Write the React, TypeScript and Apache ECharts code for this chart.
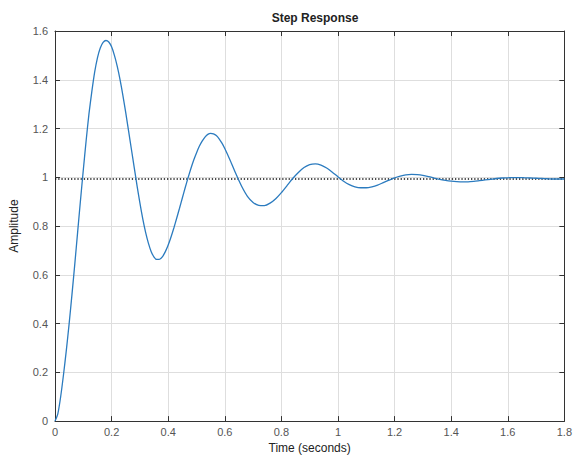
import React, { useEffect, useRef } from "react";
import * as echarts from "echarts";

const timeValues = [
  0, 0.01, 0.02, 0.03, 0.04, 0.05, 0.06, 0.07, 0.08, 0.09, 0.1, 0.11, 0.12,
  0.13, 0.14, 0.15, 0.16, 0.17, 0.18, 0.19, 0.2, 0.21, 0.22, 0.23, 0.24, 0.25,
  0.26, 0.27, 0.28, 0.29, 0.3, 0.31, 0.32, 0.33, 0.34, 0.35, 0.36, 0.37, 0.38,
  0.39, 0.4, 0.41, 0.42, 0.43, 0.44, 0.45, 0.46, 0.47, 0.48, 0.49, 0.5, 0.51,
  0.52, 0.53, 0.54, 0.55, 0.56, 0.57, 0.58, 0.59, 0.6, 0.62, 0.64, 0.66, 0.68,
  0.7, 0.72, 0.74, 0.76, 0.78, 0.8, 0.82, 0.84, 0.86, 0.88, 0.9, 0.92, 0.94,
  0.96, 0.98, 1.0, 1.02, 1.04, 1.06, 1.08, 1.1, 1.12, 1.14, 1.16, 1.18, 1.2,
  1.22, 1.24, 1.26, 1.28, 1.3, 1.32, 1.34, 1.36, 1.38, 1.4, 1.42, 1.44, 1.46,
  1.48, 1.5, 1.52, 1.54, 1.56, 1.58, 1.6, 1.62, 1.64, 1.66, 1.68, 1.7, 1.72,
  1.74, 1.76, 1.78, 1.8,
];

const amplitudeValues = [
  0, 0.03, 0.1, 0.19, 0.29, 0.4, 0.52, 0.645, 0.775, 0.905, 1.03, 1.15, 1.26,
  1.35, 1.43, 1.49, 1.53, 1.553, 1.561, 1.555, 1.535, 1.5, 1.455, 1.4, 1.335,
  1.265, 1.19, 1.115, 1.04, 0.965, 0.895, 0.83, 0.775, 0.73, 0.695, 0.673,
  0.663, 0.664, 0.675, 0.695, 0.722, 0.755, 0.792, 0.832, 0.873, 0.915, 0.957,
  0.997, 1.035, 1.07, 1.1, 1.127, 1.148, 1.165, 1.176, 1.18, 1.178, 1.171,
  1.158, 1.14, 1.118, 1.067, 1.012, 0.962, 0.922, 0.897, 0.885, 0.884, 0.894,
  0.912, 0.937, 0.966, 0.995, 1.02, 1.04, 1.052, 1.055, 1.05, 1.038, 1.021,
  1.002, 0.984, 0.97, 0.961, 0.957, 0.957, 0.961, 0.968, 0.978, 0.988, 0.998,
  1.005, 1.01, 1.012, 1.011, 1.008, 1.003, 0.997, 0.991, 0.987, 0.984, 0.982,
  0.981, 0.981, 0.983, 0.986, 0.989, 0.992, 0.995, 0.997, 0.998, 0.999, 0.999,
  0.998, 0.997, 0.996, 0.995, 0.994, 0.993, 0.993, 0.993,
];

const steadyState = 0.993;
const xRange = [0, 1.8];
const yRange = [0, 1.6];
const tickStep = 0.2;

export default function App() {
  const ref = useRef<HTMLDivElement>(null);

  useEffect(() => {
    if (!ref.current) return;
    const chart = echarts.init(ref.current, undefined, { renderer: "svg" });
    const font = "Liberation Sans, Arial, Helvetica, sans-serif";
    const labelColor = "#555";
    const lineColor = "#333";
    const gridColor = "#dedede";
    const response = timeValues.map((t, i) => [t, amplitudeValues[i]]);

    const baseX = {
      type: "value",
      min: xRange[0],
      max: xRange[1],
      interval: tickStep,
    };
    const baseY = {
      type: "value",
      min: yRange[0],
      max: yRange[1],
      interval: tickStep,
    };

    chart.setOption({
      animation: false,
      backgroundColor: "#fff",
      title: {
        text: "Step Response",
        left: 310,
        top: 7,
        textAlign: "center",
        textStyle: { fontFamily: font, fontSize: 12, fontWeight: "bold", color: "#222" },
      },
      grid: { left: 53, top: 31, width: 515, height: 396, containLabel: false },
      xAxis: [
        {
          ...baseX,
          position: "bottom",
          name: "Time (seconds)",
          nameLocation: "middle",
          nameGap: 19,
          nameTextStyle: { fontFamily: font, fontSize: 12, color: "#222" },
          axisLine: { show: true, lineStyle: { color: lineColor, width: 1 } },
          axisTick: { show: true, inside: true, length: 5, lineStyle: { color: lineColor } },
          axisLabel: { fontFamily: font, fontSize: 11, color: labelColor, margin: 5 },
          splitLine: { show: true, lineStyle: { color: gridColor, width: 1 } },
        },
        {
          ...baseX,
          position: "top",
          axisLine: { show: true, onZero: false, lineStyle: { color: lineColor, width: 1 } },
          axisTick: { show: true, inside: true, length: 5, lineStyle: { color: lineColor } },
          axisLabel: { show: false },
          splitLine: { show: false },
        },
      ],
      yAxis: [
        {
          ...baseY,
          position: "left",
          name: "Amplitude",
          nameLocation: "middle",
          nameGap: 35,
          nameRotate: 90,
          nameTextStyle: { fontFamily: font, fontSize: 12, color: "#222" },
          axisLine: { show: true, lineStyle: { color: lineColor, width: 1 } },
          axisTick: { show: true, inside: true, length: 5, lineStyle: { color: lineColor } },
          axisLabel: { fontFamily: font, fontSize: 11, color: labelColor, margin: 7 },
          splitLine: { show: true, lineStyle: { color: gridColor, width: 1 } },
        },
        {
          ...baseY,
          position: "right",
          axisLine: { show: true, onZero: false, lineStyle: { color: lineColor, width: 1 } },
          axisTick: { show: true, inside: true, length: 5, lineStyle: { color: lineColor } },
          axisLabel: { show: false },
          splitLine: { show: false },
        },
      ],
      series: [
        {
          type: "line",
          name: "Final value",
          xAxisIndex: 0,
          yAxisIndex: 0,
          data: [
            [xRange[0], steadyState],
            [xRange[1], steadyState],
          ],
          showSymbol: false,
          lineStyle: { color: "#111", width: 1.3, type: [1.3, 1.9] },
          z: 2,
        },
        {
          type: "line",
          name: "Step response",
          xAxisIndex: 0,
          yAxisIndex: 0,
          data: response,
          smooth: 0.2,
          showSymbol: false,
          lineStyle: { color: "#2b7bbf", width: 1.3 },
          z: 3,
        },
      ],
    });

    return () => chart.dispose();
  }, []);

  return (
    <div
      ref={ref}
      style={{ position: "fixed", left: 0, top: 0, width: 575, height: 459 }}
    />
  );
}
